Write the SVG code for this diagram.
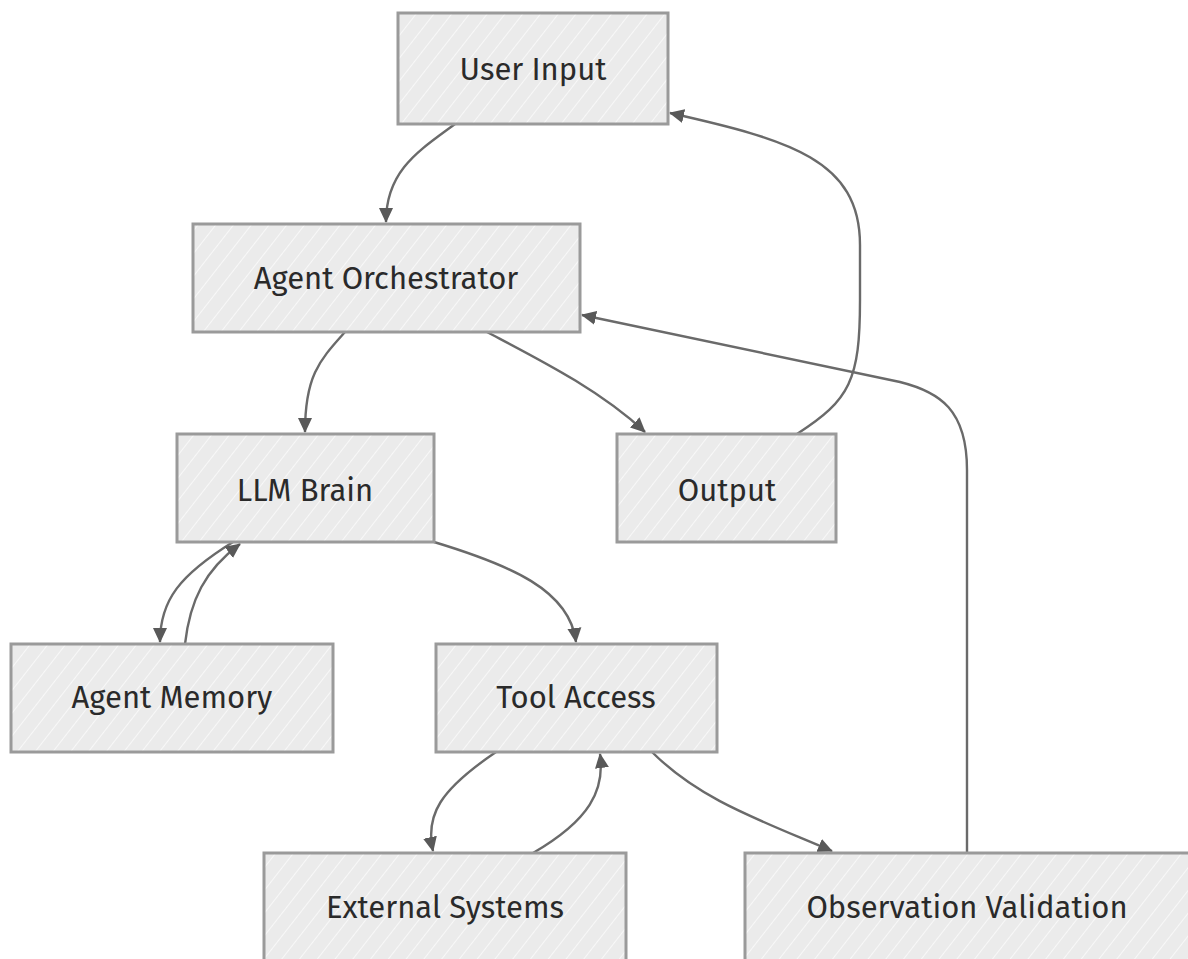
<svg xmlns="http://www.w3.org/2000/svg" width="1188" height="959" viewBox="0 0 1188 959">
<style>
.box{fill:url(#hatch);stroke:#9a9a9a;stroke-width:3}
.lbl{font-family:"Fira Sans","Open Sans","Noto Sans",sans-serif;font-size:31px;fill:#2a2a2a;text-anchor:middle;dominant-baseline:central}
.edge{fill:none;stroke:#6a6a6a;stroke-width:2.4;marker-end:url(#arr)}
</style>
<defs>
<pattern id="hatch" width="14" height="14" patternUnits="userSpaceOnUse" patternTransform="rotate(38)">
<rect width="14" height="14" fill="#ebebeb"/>
<line x1="0" y1="0" x2="0" y2="14" stroke="#ffffff" stroke-width="1.4"/>
</pattern>
<marker id="arr" viewBox="-14 -8 16 16" refX="0" refY="0" markerWidth="16" markerHeight="16" markerUnits="userSpaceOnUse" orient="auto">
<path d="M-14,-7 L1,0 L-14,7 z" fill="#595959"/>
</marker>
</defs>
<rect width="1188" height="959" fill="#ffffff"/>
<g id="connectors">
<path class="edge" d="M455,124 C420,150 386,170 386,222"/>
<path class="edge" d="M345,332 C320,360 305,375 305,432"/>
<path class="edge" d="M487,332 C540,360 600,390 645,432"/>
<path class="edge" d="M797,434 C850,400 860,380 860,300 L860,245 C860,160 790,140 670,113"/>
<path class="edge" d="M967,853 L967,470 C967,410 940,392 900,382 L582,315"/>
<path class="edge" d="M233,542 C180,575 160,600 160,642"/>
<path class="edge" d="M185,644 C190,600 205,570 240,544"/>
<path class="edge" d="M434,542 C510,565 570,590 576,642"/>
<path class="edge" d="M496,752 C440,790 425,815 433,851"/>
<path class="edge" d="M533,853 C590,820 605,790 600,754"/>
<path class="edge" d="M652,752 C700,800 760,820 832,851"/>
</g>
<g id="n-user-input"><rect class="box" x="398" y="13" width="270" height="111"/><text class="lbl" x="533" y="69">User Input</text></g>
<g id="n-agent-orchestrator"><rect class="box" x="193" y="224" width="387" height="108"/><text class="lbl" x="386" y="278">Agent Orchestrator</text></g>
<g id="n-llm-brain"><rect class="box" x="177" y="434" width="257" height="108"/><text class="lbl" x="305" y="490">LLM Brain</text></g>
<g id="n-output"><rect class="box" x="617" y="434" width="219" height="108"/><text class="lbl" x="727" y="490">Output</text></g>
<g id="n-agent-memory"><rect class="box" x="11" y="644" width="322" height="108"/><text class="lbl" x="172" y="697">Agent Memory</text></g>
<g id="n-tool-access"><rect class="box" x="436" y="644" width="281" height="108"/><text class="lbl" x="576" y="697">Tool Access</text></g>
<g id="n-external-systems"><rect class="box" x="264" y="853" width="362" height="112"/><text class="lbl" x="445" y="907">External Systems</text></g>
<g id="n-observation-validation"><rect class="box" x="745" y="853" width="448" height="112"/><text class="lbl" x="967" y="907">Observation Validation</text></g>
</svg>
